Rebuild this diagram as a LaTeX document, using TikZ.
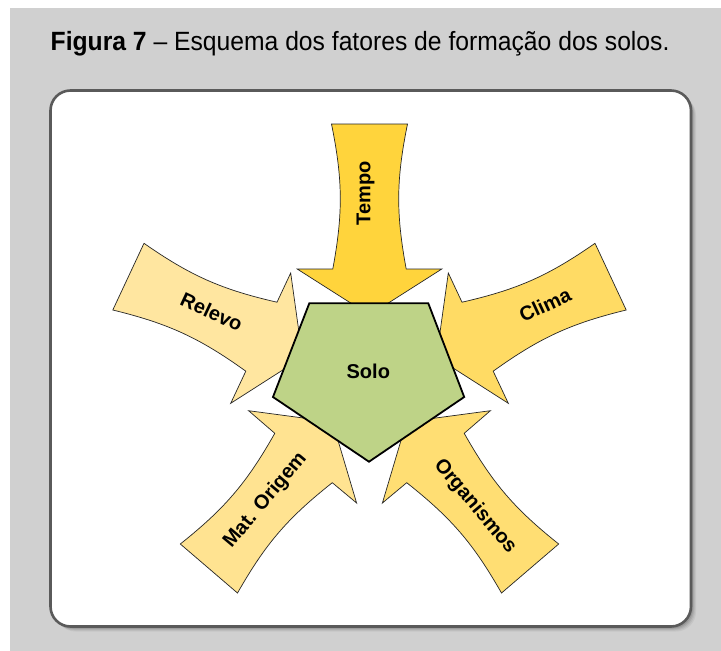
\documentclass[tikz,border=0pt]{standalone}
\usepackage{fontspec}
\setmainfont{Liberation Sans}
\definecolor{bggray}{RGB}{208,208,208}
\definecolor{framegray}{RGB}{90,90,90}
\definecolor{ctempo}{RGB}{255,212,60}
\definecolor{cclima}{RGB}{255,219,100}
\definecolor{crelevo}{RGB}{255,230,160}
\definecolor{cmat}{RGB}{255,227,145}
\definecolor{corg}{RGB}{255,222,115}
\definecolor{csolo}{RGB}{190,211,135}
\begin{document}
\begin{tikzpicture}[x=1pt,y=-1pt,
  arrowshape/.style={draw=black!85, line width=0.7pt, line join=miter},
  concave/.style={bend left=11},
  lbl/.style={font=\fontsize{20}{24}\selectfont\bfseries, inner sep=0pt, anchor=center}]
\useasboundingbox (0,0) rectangle (721,651);
\fill[white] (0,0) rectangle (721,651);
\fill[bggray] (10,8) rectangle (721,651);
% title
\node[anchor=base west, inner sep=0pt, font=\fontsize{26.4}{30}\selectfont] (title) at (50.5,50)
  {\scalebox{0.935}[1]{\textbf{Figura 7} – Esquema dos fatores de formação dos solos.}};
% shadow of the frame
\foreach \o/\a in {5/0.05, 4/0.06, 3/0.08, 2/0.1}
  \fill[black, opacity=\a, rounded corners=20pt] (50.5+\o,90.5+\o) rectangle (691+\o,626.5+\o);
\draw[line width=2.6pt, draw=framegray, fill=white, rounded corners=20pt] (50.5,90.5) rectangle (691,626.5);
% arrows
\draw[arrowshape, fill=ctempo] (331.5,124) to[concave] (332.8,269) -- (297.2,269) -- (369.5,315)
  -- (441.8,269) -- (406.2,269) to[concave] (407.5,124) -- cycle;
\draw[arrowshape, fill=crelevo] (112.8,310) to[concave] (245.8,371.2) -- (230.7,403.3) -- (302.5,357.4)
  -- (290.7,273) -- (277,302.2) to[concave] (144,243.3) -- cycle;
\draw[arrowshape, fill=cclima] (595,243.3) to[concave] (462,302.2) -- (448.3,273) -- (436.5,357.4)
  -- (508.3,403.3) -- (493.2,371.2) to[concave] (626.2,310) -- cycle;
\draw[arrowshape, fill=cmat] (237.5,593) to[concave] (332.3,482.7) -- (356.6,503) -- (332.5,421.9)
  -- (248.6,410.7) -- (274.8,433.3) to[concave] (180.3,544) -- cycle;
\draw[arrowshape, fill=corg] (558.7,544) to[concave] (464.2,433.3) -- (490.4,410.7) -- (406.5,421.9)
  -- (382.4,503) -- (406.7,482.7) to[concave] (501.5,593) -- cycle;
% pentagon
\draw[line width=1.8pt, fill=csolo, line join=miter] (309.3,303.3) -- (428.3,303.3) -- (464.2,397)
  -- (369,461.7) -- (273,397) -- cycle;
% labels
\node[lbl] (solo) at (368.3,371.7) {Solo};
\node[lbl, rotate=90] (tempo) at (365.5,193.5) {Tempo};
\node[lbl, rotate=-25] (relevo) at (211.7,311.7) {Relevo};
\node[lbl, rotate=25] (clima) at (545,305) {Clima};
\node[lbl, rotate=50] (mat) at (265.5,500.5) {Mat. Origem};
\node[lbl, rotate=-50] (org) at (475,506.5) {Organismos};
\end{tikzpicture}
\end{document}
